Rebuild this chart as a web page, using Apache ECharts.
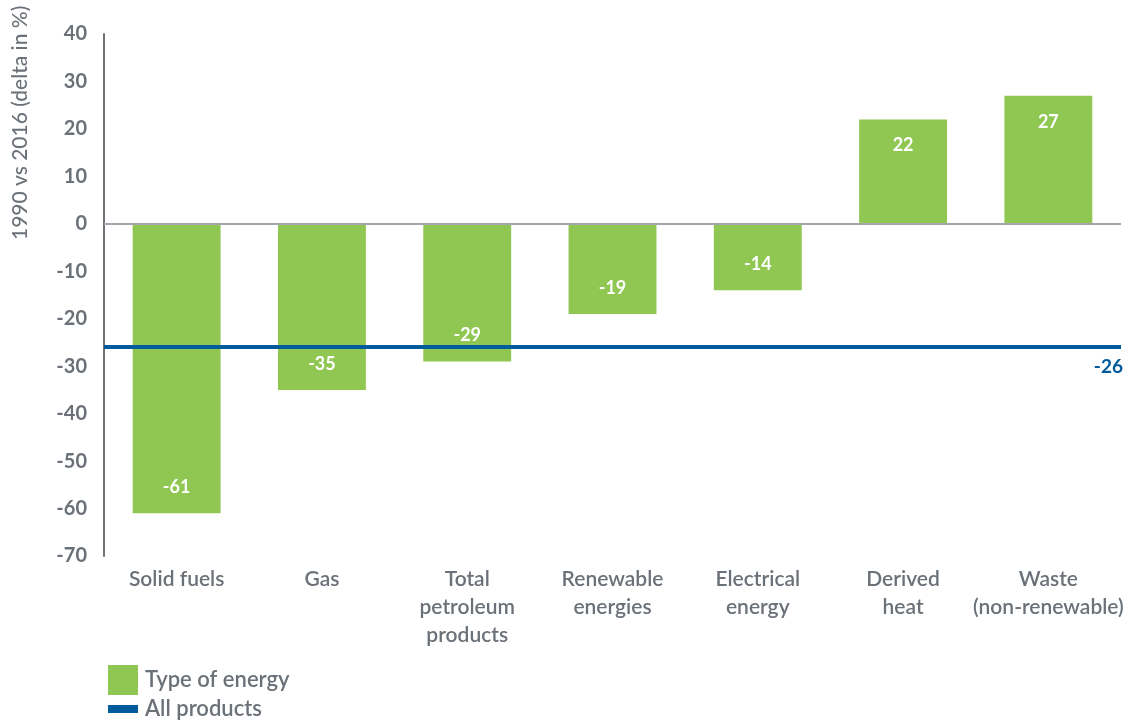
<!DOCTYPE html>
<html><head><meta charset="utf-8">
<script src="https://cdn.jsdelivr.net/npm/echarts@6/dist/echarts.min.js"></script>
<style>html,body{margin:0;padding:0;background:#fff}#c{width:1133px;height:720px}</style>
</head><body><div id="c"></div>
<script>
const categories = ['Solid fuels','Gas','Total\npetroleum\nproducts','Renewable\nenergies','Electrical\nenergy','Derived\nheat','Waste\n(non-renewable)'];
const typeValues = [-61,-35,-29,-19,-14,22,27];
const allProducts = -26;
const yTicks = {min:-70,max:40,interval:10};

const FONT = 'Lato, "Open Sans", sans-serif';
const GREY = '#6b7178';
const GREEN = '#8fc752';
const BLUE = '#005b9d';

const chart = echarts.init(document.getElementById('c'));
chart.setOption({
  animation:false,
  textStyle:{fontFamily:FONT},
  grid:{left:104,right:12,top:34,bottom:164,containLabel:false,outerBoundsMode:'none'},
  graphic:[{type:'text',rotation:Math.PI/2,position:[10,240],
    style:{text:'1990 vs 2016 (delta in %)',fill:GREY,font:'500 21px '+FONT}}],
  legend:[
    {data:['Type of energy'],orient:'vertical',left:103,top:660,itemWidth:30,itemHeight:30,icon:'rect',
     textStyle:{color:GREY,fontSize:22,fontWeight:600,fontFamily:FONT,padding:[0,0,0,2]}},
    {data:['All products'],orient:'vertical',left:103,top:693,itemWidth:30,itemHeight:8,icon:'rect',
     textStyle:{color:GREY,fontSize:22,fontWeight:600,fontFamily:FONT,padding:[0,0,0,2]}}
  ],
  xAxis:{type:'category',data:categories,
    axisLine:{show:false,onZero:false},axisTick:{show:false},
    axisLabel:{color:GREY,fontSize:21,fontWeight:600,fontFamily:FONT,lineHeight:28,margin:9,interval:0}},
  yAxis:{type:'value',min:yTicks.min,max:yTicks.max,interval:yTicks.interval,
    splitLine:{show:false},
    axisLine:{show:true,lineStyle:{color:'#6d7278',width:2}},
    axisTick:{show:false},
    axisLabel:{color:GREY,fontSize:20,fontWeight:'bold',fontFamily:FONT,margin:17}},
  series:[
    {name:'Type of energy',type:'bar',barWidth:'60.5%',itemStyle:{color:GREEN},
     data:typeValues.map(v=>({value:v,label:{position:v<0?'insideBottom':'insideTop'}})),
     label:{show:true,color:'#fff',fontSize:18,fontWeight:'bold',fontFamily:FONT,distance:17},
     markLine:{silent:true,symbol:'none',label:{show:false},
       lineStyle:{color:'#a3a7ab',width:2,type:'solid'},data:[{yAxis:0}]},
     z:2},
    {name:'All products',type:'line',data:[],itemStyle:{color:BLUE},lineStyle:{color:BLUE},
     markLine:{silent:true,symbol:'none',
       lineStyle:{color:BLUE,width:4,type:'solid'},
       label:{show:true,position:'insideEndBottom',formatter:String(allProducts),color:BLUE,
         fontSize:19,fontWeight:'bold',fontFamily:FONT,distance:[-2,10]},
       data:[{yAxis:allProducts}]},
     z:5}
  ]
});
</script></body></html>
